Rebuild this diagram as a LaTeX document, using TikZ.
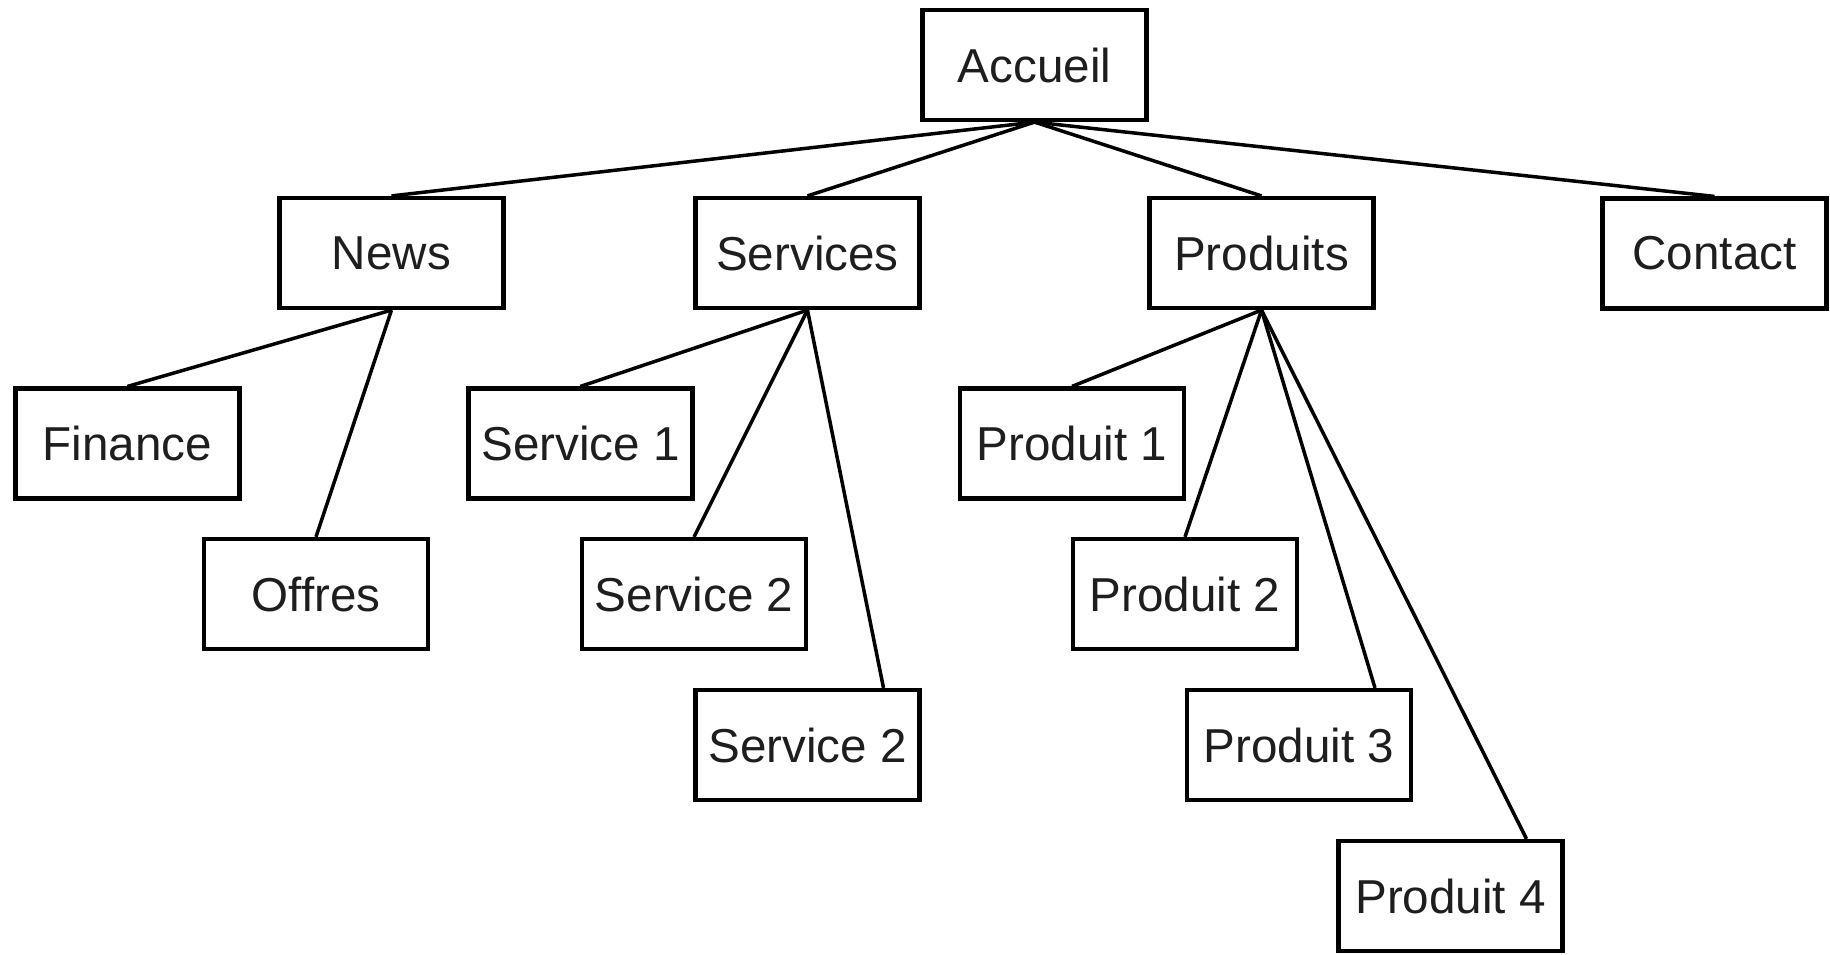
\documentclass[tikz,border=0pt]{standalone}
\usepackage{fontspec}
\usetikzlibrary{calc}
\setmainfont{Liberation Sans}
\definecolor{txt}{HTML}{1E1E1E}
\begin{document}
\begin{tikzpicture}[x=1pt,y=-1pt,
  box/.style={draw=black,line width=4.2pt,minimum width=224pt,minimum height=110pt,inner sep=0pt,
    font=\fontsize{47.6pt}{57pt}\selectfont,text=txt},
  link/.style={draw=black,line width=3.5pt}]
\useasboundingbox (0,0) rectangle (1830,954);
\node[box] (acc) at (1034.5,65) {Accueil};
\node[box] (news) at (391.5,253) {News};
\node[box] (serv) at (807.5,253) {Services};
\node[box] (prod) at (1261.5,253) {Produits};
\node[box] (cont) at (1714.5,253.5) {Contact};
\node[box] (fin) at (127.5,443.5) {Finance};
\node[box] (off) at (316,594) {Offres};
\node[box] (s1) at (580.5,443.5) {Service 1};
\node[box] (s2) at (694,594) {Service 2};
\node[box] (s3) at (807.5,745) {Service 2};
\node[box] (p1) at (1072,443.5) {Produit 1};
\node[box] (p2) at (1185,594) {Produit 2};
\node[box] (p3) at (1299,745) {Produit 3};
\node[box] (p4) at (1450.5,896) {Produit 4};
\foreach \c in {news,serv,prod,cont} \draw[link] (acc.south) -- (\c.north);
\foreach \c in {fin,off} \draw[link] (news.south) -- (\c.north);
\foreach \c in {s1,s2} \draw[link] (serv.south) -- (\c.north);
\draw[link] (serv.south) -- ($(s3.north)+(76,0)$);
\foreach \c in {p1,p2} \draw[link] (prod.south) -- (\c.north);
\foreach \c in {p3,p4} \draw[link] (prod.south) -- ($(\c.north)+(76,0)$);
\end{tikzpicture}
\end{document}
